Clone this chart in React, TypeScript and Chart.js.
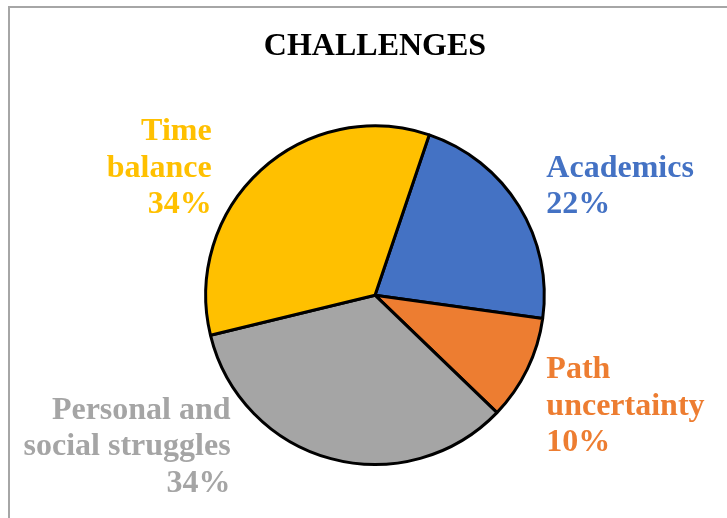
import React, { useEffect, useRef } from "react";
import { Chart, registerables } from "chart.js";

Chart.register(...registerables);

const categories = ["Academics", "Path uncertainty", "Personal and social struggles", "Time balance"];
const values = [22, 10, 34, 34];
const labelLines = [
  ["Academics", "22%"],
  ["Path", "uncertainty", "10%"],
  ["Personal and", "social struggles", "34%"],
  ["Time", "balance", "34%"],
];
const colors = ["#4472C4", "#ED7D31", "#A5A5A5", "#FFC000"];
const titleText = "CHALLENGES";

// label anchors relative to pie center, in units of the pie radius
const labelAnchors = [
  { dx: 1.012, dy: -0.70, align: "left" },
  { dx: 1.012, dy: 0.488, align: "left" },
  { dx: -0.853, dy: 0.729, align: "right" },
  { dx: -0.965, dy: -0.918, align: "right" },
];

const FONT = "'Liberation Serif', 'Times New Roman', serif";

const labelPlugin = {
  id: "sliceLabels",
  afterDraw(chart: any) {
    const meta = chart.getDatasetMeta(0);
    const ctx = chart.ctx;
    ctx.save();
    ctx.font = `bold 32px ${FONT}`;
    ctx.textBaseline = "alphabetic";
    meta.data.forEach((arc: any, i: number) => {
      const { x, y, outerRadius } = arc.getProps(["x", "y", "outerRadius"], true);
      const a = labelAnchors[i];
      const ax = x + a.dx * outerRadius;
      const ay = y + a.dy * outerRadius;
      ctx.fillStyle = colors[i];
      ctx.textAlign = a.align;
      labelLines[i].forEach((line, j) => {
        ctx.fillText(line, ax, ay + j * 36.8);
      });
    });
    ctx.restore();
  },
};

export default function App() {
  const ref = useRef<HTMLCanvasElement>(null);
  useEffect(() => {
    const chart = new Chart(ref.current!, {
      type: "pie",
      data: {
        labels: categories,
        datasets: [
          {
            data: values,
            backgroundColor: colors,
            borderColor: "#000000",
            borderWidth: 3,
          },
        ],
      },
      options: {
        animation: false,
        responsive: false,
        rotation: 18.7,
        layout: { padding: { left: 204, right: 181, top: 0, bottom: 52 } },
        plugins: {
          legend: { display: false },
          tooltip: { enabled: false },
          title: {
            display: true,
            text: titleText,
            color: "#000000",
            font: { family: FONT, size: 32, weight: "bold", lineHeight: 1.2 },
            padding: { top: 28, bottom: 58 },
          },
        },
      },
      plugins: [labelPlugin],
    });
    return () => chart.destroy();
  }, []);
  return (
    <div style={{ position: "fixed", left: 0, top: 0, width: 727, height: 518, overflow: "hidden", background: "#fff" }}>
      <div
        style={{
          position: "absolute",
          left: 8,
          top: 6,
          width: 760,
          height: 560,
          border: "2px solid #A6A6A6",
          boxSizing: "border-box",
        }}
      />
      <canvas ref={ref} width={727} height={518} style={{ position: "absolute", left: 0, top: 0 }} />
    </div>
  );
}
